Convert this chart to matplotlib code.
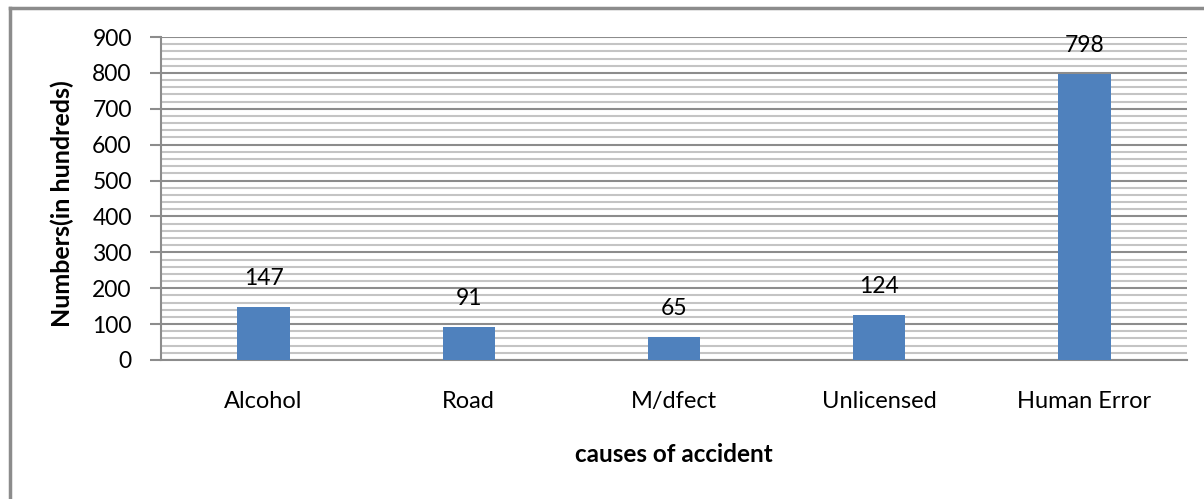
import matplotlib.pyplot as plt
from matplotlib.lines import Line2D
import numpy as np

plt.rcParams['font.family'] = ['Lato', 'DejaVu Sans']

causes = ["Alcohol", "Road", "M/dfect", "Unlicensed", "Human Error"]
counts = [147, 91, 65, 124, 798]

fig = plt.figure(figsize=(12.04, 4.99), dpi=100)
ax = fig.add_axes([161/1204, 1 - 360/499, (1187-161)/1204, (360-37)/499])

x = np.arange(len(causes))
ax.bar(x, counts, width=0.255, color="#4f81bd", zorder=3)
for xi, v in zip(x, counts):
    ax.annotate(str(v), (xi, v), xytext=(0, 13), textcoords="offset points",
                ha="center", va="bottom", fontsize=16.5)

ax.set_xlim(-0.5, len(causes) - 0.5)
ax.set_ylim(0, 900)
ax.set_yticks(np.arange(0, 901, 100))
ax.set_yticks(np.arange(0, 901, 20), minor=True)
ax.set_xticks(x)
ax.set_xticklabels(causes)

ax.grid(which="minor", axis="y", color="#c4c4c4", lw=1.5, zorder=0)
ax.grid(which="major", axis="y", color="#8c8c8c", lw=1.5, zorder=1)

for s in ["top", "right"]:
    ax.spines[s].set_visible(False)
for s in ["left", "bottom"]:
    ax.spines[s].set_color("#8c8c8c")
    ax.spines[s].set_linewidth(1.5)

ax.tick_params(axis="y", which="major", length=8, width=1.5, color="#8c8c8c",
               labelsize=16.5, pad=13)
ax.tick_params(axis="y", which="minor", length=0)
ax.tick_params(axis="x", length=0, labelsize=17, pad=22)

ax.set_ylabel("Numbers(in hundreds)", fontsize=18, fontweight="bold",
              va="center", ha="center")
ax.yaxis.set_label_coords((62 - 161) / 1026, 0.5 + (200 - 205) / 323)
ax.set_xlabel("causes of accident", fontsize=17.5, fontweight="bold",
              va="center", ha="center")
ax.xaxis.set_label_coords(0.5, (360 - 455) / 323)

# chart area border
fig.add_artist(Line2D([10/1204, 10/1204], [0, 1 - 8/499], color="#8c8c8c", lw=2.5))
fig.add_artist(Line2D([10/1204, 1], [1 - 8/499, 1 - 8/499], color="#8c8c8c", lw=2.5))

fig.savefig("out.png", dpi=100)
